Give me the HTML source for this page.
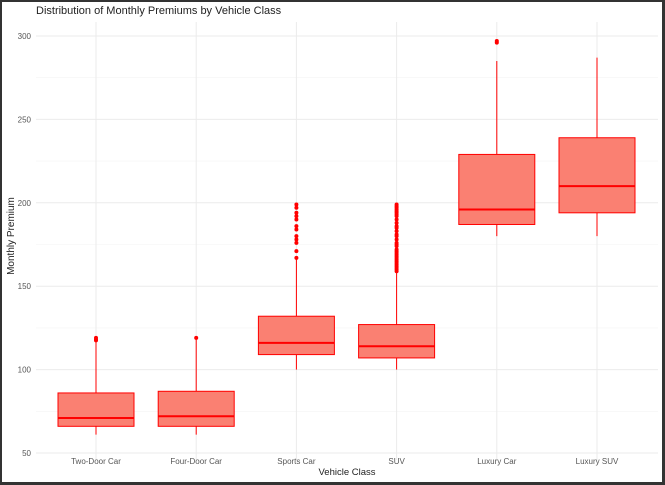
<!DOCTYPE html>
<html><head><meta charset="utf-8"><style>
html,body{margin:0;padding:0;background:#333;}
svg{display:block;}
text{font-family:"Liberation Sans",sans-serif;}
</style></head><body>
<svg id="chart" width="665" height="485" xmlns="http://www.w3.org/2000/svg">
<rect x="2" y="2" width="660" height="480" fill="#fff"/>
<text x="36" y="14" font-size="11" fill="#222">Distribution of Monthly Premiums by Vehicle Class</text>
<g id="grid"></g><g id="ticks"></g><g id="boxes"></g>
<text x="347" y="475" font-size="9.5" fill="#222" text-anchor="middle">Vehicle Class</text>
<text transform="translate(14,236) rotate(-90)" font-size="10" fill="#222" text-anchor="middle">Monthly Premium</text>
</svg>
<script>
const categories=["Two-Door Car","Four-Door Car","Sports Car","SUV","Luxury Car","Luxury SUV"];
const whiskerLow=[61,61,100,100,180,180];
const q1=[66,66,109,107,187,194];
const median=[71,72,116,114,196,210];
const q3=[86,87,132,127,229,239];
const whiskerHigh=[117,118,166,158,285,287];
const outliers=[[117.5,118,119],[119],[167,171,176,178,180,184,186,190,192,194,197,199],
[159,160,161,162,163,164,165,166,167,168,169,170,171,172,174,175,176,178,180,181,183,185,186,188,190,192,193,194,195,196,197,198,199],
[296,297],[]];
const yTicks=[50,100,150,200,250,300];
const yMinor=[75,125,175,225,275];
const NS="http://www.w3.org/2000/svg";
const y=v=>453-(v-50)*417/250;
const x=i=>96+i*100.2;
const L=36,R=658,T=22,B=460;
function mk(tag,attrs,parent){const e=document.createElementNS(NS,tag);for(const k in attrs)e.setAttribute(k,attrs[k]);document.getElementById(parent).appendChild(e);return e;}
yMinor.forEach(v=>{const e=mk('line',{x1:L,x2:R,y1:y(v),y2:y(v),stroke:'#f4f4f4','stroke-width':0.6},'grid');

});
yTicks.forEach(v=>{const e=mk('line',{x1:L,x2:R,y1:y(v),y2:y(v),stroke:'#ebebeb','stroke-width':1},'grid');


const t=mk('text',{x:31,y:y(v)+3,'font-size':8,fill:'#555','text-anchor':'end'},'ticks');t.textContent=v;

});
categories.forEach((c,i)=>{const e=mk('line',{x1:x(i),x2:x(i),y1:T,y2:B,stroke:'#ebebeb','stroke-width':1},'grid');


const t=mk('text',{x:x(i),y:464,'font-size':8,fill:'#555','text-anchor':'middle'},'ticks');t.textContent=c;


const hw=38;
const w1=mk('line',{x1:x(i),x2:x(i),y1:y(whiskerLow[i]),y2:y(q1[i]),stroke:'#f00','stroke-width':1},'boxes');


const w2=mk('line',{x1:x(i),x2:x(i),y1:y(q3[i]),y2:y(whiskerHigh[i]),stroke:'#f00','stroke-width':1},'boxes');


const b=mk('rect',{x:x(i)-hw,y:y(q3[i]),width:hw*2,height:y(q1[i])-y(q3[i]),fill:'#fa8072',stroke:'#f00','stroke-width':1},'boxes');


const m=mk('line',{x1:x(i)-hw,x2:x(i)+hw,y1:y(median[i]),y2:y(median[i]),stroke:'#f00','stroke-width':2},'boxes');


outliers[i].forEach(v=>{const p=mk('circle',{cx:x(i),cy:y(v),r:2,fill:'#f00'},'boxes');

});
});
</script>
</body></html>
